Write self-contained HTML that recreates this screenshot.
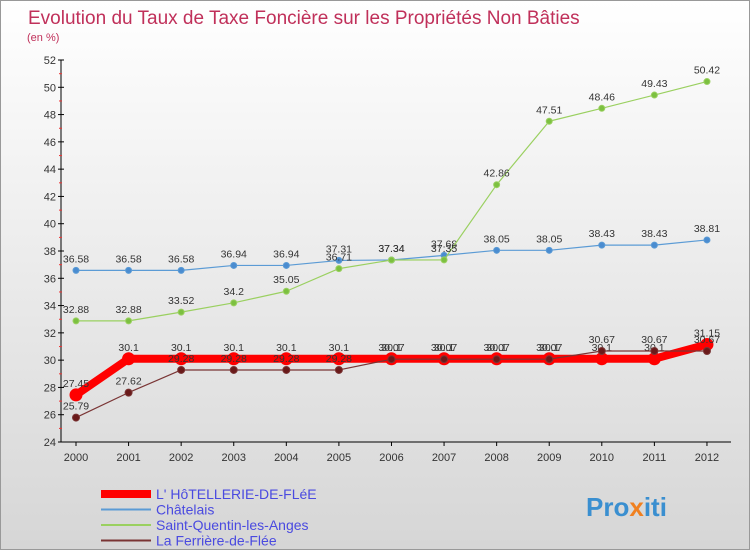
<!DOCTYPE html>
<html><head><meta charset="utf-8"><style>
body{margin:0}
#c{width:750px;height:550px;position:relative;background:linear-gradient(#ffffff,#d6d6d6);border:1px solid #999;box-sizing:border-box;font-family:"Liberation Sans",sans-serif;overflow:hidden}
svg text{font-family:"Liberation Sans",sans-serif}
</style></head><body>
<div id="c">
<svg width="750" height="550" id="s">
<text x="27" y="23" font-size="19" fill="#c0305a">Evolution du Taux de Taxe Foncière sur les Propriétés Non Bâties</text>
<text x="26" y="40" font-size="11" fill="#c0305a">(en %)</text>
<text x="585" y="515" font-size="26" font-weight="bold" fill="#3a8fd0">Pro<tspan fill="#f08020">x</tspan>iti</text>
</svg>
</div>
<script>
const years=[2000,2001,2002,2003,2004,2005,2006,2007,2008,2009,2010,2011,2012];
const yTicks=[24,26,28,30,32,34,36,38,40,42,44,46,48,50,52];
const hotellerie=[27.45,30.1,30.1,30.1,30.1,30.1,30.1,30.1,30.1,30.1,30.1,30.1,31.15];
const chatelais=[36.58,36.58,36.58,36.94,36.94,37.31,37.34,37.68,38.05,38.05,38.43,38.43,38.81];
const saintQuentin=[32.88,32.88,33.52,34.2,35.05,36.71,37.34,37.35,42.86,47.51,48.46,49.43,50.42];
const ferriere=[25.79,27.62,29.28,29.28,29.28,29.28,30.07,30.07,30.07,30.07,30.67,30.67,30.67];
const s=document.getElementById('s');const NS='http://www.w3.org/2000/svg';
const X=i=>75+i*52.58;const Y=v=>441-(v-24)*(382/28);
function mk(t,a){const e=document.createElementNS(NS,t);for(const k in a)e.setAttribute(k,a[k]);s.appendChild(e);return e;}
let ax=mk('line',{x1:60,y1:59,x2:60,y2:441,stroke:'#000'});


let xa=mk('line',{x1:60,y1:441,x2:730,y2:441,stroke:'#000'});


yTicks.forEach(v=>{const y=Y(v);mk('line',{x1:57,y1:y,x2:63,y2:y,stroke:'#000'});if(v<52)mk('line',{x1:58,y1:y-13.6,x2:61,y2:y-13.6,stroke:'#e33'});
const t=mk('text',{x:55,y:y+4,'font-size':11,'text-anchor':'end',fill:'#333'});t.textContent=v;

});
years.forEach((yr,i)=>{mk('line',{x1:X(i),y1:441,x2:X(i),y2:445,stroke:'#000'});const t=mk('text',{x:X(i),y:460,'font-size':11,'text-anchor':'middle',fill:'#333'});t.textContent=yr;

});
function series(d,col,w,r,dot,name){const p=mk('polyline',{points:d.map((v,i)=>X(i)+','+Y(v)).join(' '),fill:'none',stroke:col,'stroke-width':w,'stroke-linejoin':'round'});


d.forEach((v,i)=>{const c=mk('circle',{cx:X(i),cy:Y(v),r:r,fill:dot,stroke:col});


const t=mk('text',{x:X(i),y:Y(v)-8,'font-size':10.5,'text-anchor':'middle',fill:'#333'});t.textContent=v;

});}
series(chatelais,'#5b9bd5',1.2,3,'#4a8cd0','chatelais');
series(saintQuentin,'#9ad060',1.2,3,'#7cc040','saint-quentin');
series(hotellerie,'#ff0000',8,6,'#ff0000','hotellerie');
series(ferriere,'#7a3535',1.2,3.5,'#6a1a1a','ferriere');
const leg=[['L\' HôTELLERIE-DE-FLéE','#ff0000',8],['Châtelais','#5b9bd5',2],['Saint-Quentin-les-Anges','#9ad060',2],['La Ferrière-de-Flée','#7a3535',2]];
leg.forEach((l,i)=>{const y=493+i*15.5;mk('line',{x1:100,y1:y,x2:150,y2:y,stroke:l[1],'stroke-width':l[2]});
const t=mk('text',{x:155,y:y+5,'font-size':14,fill:'#4a4ae0'});t.textContent=l[0];

});
</script>
</body></html>
